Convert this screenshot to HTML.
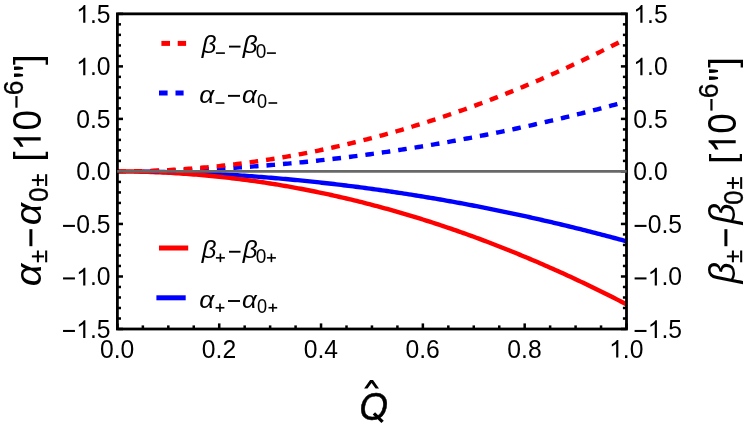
<!DOCTYPE html>
<html><head><meta charset="utf-8"><title>plot</title>
<style>html,body{margin:0;padding:0;background:#fff;}svg{display:block;will-change:transform;}text{font-family:"Liberation Sans",sans-serif;fill:#000;}</style>
</head><body>
<svg width="747" height="429" viewBox="0 0 747 429">
<defs><clipPath id="c"><rect x="117.4" y="13.85" width="509.10" height="315.15"/></clipPath></defs>
<g clip-path="url(#c)" fill="none" stroke-linecap="butt" stroke-linejoin="round">
<path d="M142.86,171.60 L145.27,171.63 L147.69,171.67 L150.11,171.71 L152.53,171.76 L154.95,171.80 L157.36,171.86 L159.78,171.91 L162.20,171.97 L164.62,172.03 L167.04,172.09 L169.46,172.16 L171.87,172.22 L174.29,172.30 L176.71,172.37 L179.13,172.45 L181.55,172.53 L183.96,172.62 L186.38,172.71 L188.80,172.80 L191.22,172.89 L193.64,172.99 L196.06,173.09 L198.47,173.20 L200.89,173.30 L203.31,173.41 L205.73,173.53 L208.15,173.64 L210.57,173.76 L212.98,173.89 L215.40,174.01 L217.82,174.14 L220.24,174.28 L222.66,174.41 L225.07,174.55 L227.49,174.69 L229.91,174.84 L232.33,174.99 L234.75,175.14 L237.17,175.29 L239.58,175.45 L242.00,175.61 L244.42,175.77 L246.84,175.94 L249.26,176.11 L251.68,176.28 L254.09,176.46 L256.51,176.64 L258.93,176.82 L261.35,177.01 L263.77,177.20 L266.18,177.39 L268.60,177.59 L271.02,177.79 L273.44,177.99 L275.86,178.19 L278.28,178.40 L280.69,178.61 L283.11,178.83 L285.53,179.04 L287.95,179.26 L290.37,179.49 L292.78,179.72 L295.20,179.95 L297.62,180.18 L300.04,180.42 L302.46,180.66 L304.88,180.90 L307.29,181.14 L309.71,181.39 L312.13,181.65 L314.55,181.90 L316.97,182.16 L319.39,182.42 L321.80,182.69 L324.22,182.95 L326.64,183.23 L329.06,183.50 L331.48,183.78 L333.89,184.06 L336.31,184.34 L338.73,184.63 L341.15,184.92 L343.57,185.21 L345.99,185.51 L348.40,185.81 L350.82,186.11 L353.24,186.42 L355.66,186.73 L358.08,187.04 L360.50,187.35 L362.91,187.67 L365.33,187.99 L367.75,188.32 L370.17,188.65 L372.59,188.98 L375.00,189.31 L377.42,189.65 L379.84,189.99 L382.26,190.33 L384.68,190.68 L387.10,191.03 L389.51,191.38 L391.93,191.74 L394.35,192.10 L396.77,192.46 L399.19,192.83 L401.61,193.20 L404.02,193.57 L406.44,193.94 L408.86,194.32 L411.28,194.70 L413.70,195.09 L416.11,195.48 L418.53,195.87 L420.95,196.26 L423.37,196.66 L425.79,197.06 L428.21,197.46 L430.62,197.87 L433.04,198.28 L435.46,198.69 L437.88,199.11 L440.30,199.53 L442.71,199.95 L445.13,200.38 L447.55,200.80 L449.97,201.24 L452.39,201.67 L454.81,202.11 L457.22,202.55 L459.64,203.00 L462.06,203.44 L464.48,203.89 L466.90,204.35 L469.32,204.81 L471.73,205.27 L474.15,205.73 L476.57,206.20 L478.99,206.67 L481.41,207.14 L483.82,207.61 L486.24,208.09 L488.66,208.58 L491.08,209.06 L493.50,209.55 L495.92,210.04 L498.33,210.54 L500.75,211.04 L503.17,211.54 L505.59,212.04 L508.01,212.55 L510.43,213.06 L512.84,213.57 L515.26,214.09 L517.68,214.61 L520.10,215.13 L522.52,215.66 L524.93,216.19 L527.35,216.72 L529.77,217.26 L532.19,217.80 L534.61,218.34 L537.03,218.89 L539.44,219.43 L541.86,219.99 L544.28,220.54 L546.70,221.10 L549.12,221.66 L551.54,222.22 L553.95,222.79 L556.37,223.36 L558.79,223.94 L561.21,224.51 L563.63,225.09 L566.04,225.68 L568.46,226.26 L570.88,226.85 L573.30,227.45 L575.72,228.04 L578.14,228.64 L580.55,229.24 L582.97,229.85 L585.39,230.46 L587.81,231.07 L590.23,231.68 L592.64,232.30 L595.06,232.92 L597.48,233.55 L599.90,234.17 L602.32,234.80 L604.74,235.44 L607.15,236.07 L609.57,236.71 L611.99,237.36 L614.41,238.00 L616.83,238.65 L619.25,239.31 L621.66,239.96 L624.08,240.62 L626.50,241.28" stroke="#0000ff" stroke-width="4.4"/>
<path d="M117.40,171.42 L119.95,171.43 L122.49,171.44 L125.04,171.46 L127.58,171.48 L130.13,171.51 L132.67,171.55 L135.22,171.59 L137.76,171.64 L140.31,171.70 L142.86,171.76 L145.40,171.83 L147.95,171.91 L150.49,171.99 L153.04,172.08 L155.58,172.18 L158.13,172.28 L160.67,172.39 L163.22,172.51 L165.76,172.63 L168.31,172.76 L170.86,172.90 L173.40,173.05 L175.95,173.20 L178.49,173.35 L181.04,173.52 L183.58,173.69 L186.13,173.87 L188.67,174.05 L191.22,174.24 L193.76,174.44 L196.31,174.64 L198.86,174.85 L201.40,175.07 L203.95,175.29 L206.49,175.53 L209.04,175.76 L211.58,176.01 L214.13,176.26 L216.67,176.52 L219.22,176.78 L221.77,177.05 L224.31,177.33 L226.86,177.61 L229.40,177.91 L231.95,178.20 L234.49,178.51 L237.04,178.82 L239.58,179.14 L242.13,179.46 L244.68,179.79 L247.22,180.13 L249.77,180.47 L252.31,180.83 L254.86,181.18 L257.40,181.55 L259.95,181.92 L262.49,182.30 L265.04,182.68 L267.58,183.07 L270.13,183.47 L272.68,183.88 L275.22,184.29 L277.77,184.70 L280.31,185.13 L282.86,185.56 L285.40,186.00 L287.95,186.44 L290.49,186.89 L293.04,187.35 L295.59,187.82 L298.13,188.29 L300.68,188.77 L303.22,189.25 L305.77,189.74 L308.31,190.24 L310.86,190.74 L313.40,191.25 L315.95,191.77 L318.49,192.30 L321.04,192.83 L323.59,193.37 L326.13,193.91 L328.68,194.46 L331.22,195.02 L333.77,195.58 L336.31,196.15 L338.86,196.73 L341.40,197.32 L343.95,197.91 L346.50,198.50 L349.04,199.11 L351.59,199.72 L354.13,200.34 L356.68,200.96 L359.22,201.59 L361.77,202.23 L364.31,202.87 L366.86,203.52 L369.40,204.18 L371.95,204.84 L374.50,205.51 L377.04,206.19 L379.59,206.88 L382.13,207.57 L384.68,208.26 L387.22,208.97 L389.77,209.68 L392.31,210.39 L394.86,211.12 L397.41,211.85 L399.95,212.58 L402.50,213.32 L405.04,214.07 L407.59,214.83 L410.13,215.59 L412.68,216.36 L415.22,217.14 L417.77,217.92 L420.31,218.71 L422.86,219.51 L425.41,220.31 L427.95,221.12 L430.50,221.93 L433.04,222.76 L435.59,223.58 L438.13,224.42 L440.68,225.26 L443.22,226.11 L445.77,226.97 L448.32,227.83 L450.86,228.69 L453.41,229.57 L455.95,230.45 L458.50,231.34 L461.04,232.23 L463.59,233.13 L466.13,234.04 L468.68,234.96 L471.22,235.88 L473.77,236.80 L476.32,237.74 L478.86,238.68 L481.41,239.62 L483.95,240.58 L486.50,241.54 L489.04,242.50 L491.59,243.48 L494.13,244.45 L496.68,245.44 L499.23,246.43 L501.77,247.43 L504.32,248.44 L506.86,249.45 L509.41,250.47 L511.95,251.49 L514.50,252.52 L517.04,253.56 L519.59,254.61 L522.13,255.66 L524.68,256.72 L527.23,257.78 L529.77,258.85 L532.32,259.93 L534.86,261.01 L537.41,262.10 L539.95,263.20 L542.50,264.30 L545.04,265.41 L547.59,266.53 L550.13,267.65 L552.68,268.78 L555.23,269.91 L557.77,271.05 L560.32,272.20 L562.86,273.36 L565.41,274.52 L567.95,275.68 L570.50,276.86 L573.04,278.04 L575.59,279.23 L578.14,280.42 L580.68,281.62 L583.23,282.83 L585.77,284.04 L588.32,285.26 L590.86,286.48 L593.41,287.71 L595.95,288.95 L598.50,290.20 L601.04,291.45 L603.59,292.71 L606.14,293.97 L608.68,295.24 L611.23,296.52 L613.77,297.80 L616.32,299.09 L618.86,300.39 L621.41,301.69 L623.95,303.00 L626.50,304.31" stroke="#ff0000" stroke-width="4.4"/>
<path d="M142.86,171.25 L145.27,171.22 L147.69,171.18 L150.11,171.14 L152.53,171.09 L154.95,171.05 L157.36,170.99 L159.78,170.94 L162.20,170.88 L164.62,170.82 L167.04,170.76 L169.46,170.69 L171.87,170.63 L174.29,170.55 L176.71,170.48 L179.13,170.40 L181.55,170.32 L183.96,170.23 L186.38,170.14 L188.80,170.05 L191.22,169.96 L193.64,169.86 L196.06,169.76 L198.47,169.65 L200.89,169.55 L203.31,169.44 L205.73,169.32 L208.15,169.21 L210.57,169.09 L212.98,168.96 L215.40,168.84 L217.82,168.71 L220.24,168.57 L222.66,168.44 L225.07,168.30 L227.49,168.16 L229.91,168.01 L232.33,167.86 L234.75,167.71 L237.17,167.56 L239.58,167.40 L242.00,167.24 L244.42,167.08 L246.84,166.91 L249.26,166.74 L251.68,166.57 L254.09,166.39 L256.51,166.21 L258.93,166.03 L261.35,165.84 L263.77,165.65 L266.18,165.46 L268.60,165.26 L271.02,165.06 L273.44,164.86 L275.86,164.66 L278.28,164.45 L280.69,164.24 L283.11,164.02 L285.53,163.81 L287.95,163.59 L290.37,163.36 L292.78,163.13 L295.20,162.90 L297.62,162.67 L300.04,162.43 L302.46,162.19 L304.88,161.95 L307.29,161.71 L309.71,161.46 L312.13,161.20 L314.55,160.95 L316.97,160.69 L319.39,160.43 L321.80,160.16 L324.22,159.90 L326.64,159.62 L329.06,159.35 L331.48,159.07 L333.89,158.79 L336.31,158.51 L338.73,158.22 L341.15,157.93 L343.57,157.64 L345.99,157.34 L348.40,157.04 L350.82,156.74 L353.24,156.43 L355.66,156.12 L358.08,155.81 L360.50,155.50 L362.91,155.18 L365.33,154.86 L367.75,154.53 L370.17,154.20 L372.59,153.87 L375.00,153.54 L377.42,153.20 L379.84,152.86 L382.26,152.52 L384.68,152.17 L387.10,151.82 L389.51,151.47 L391.93,151.11 L394.35,150.75 L396.77,150.39 L399.19,150.02 L401.61,149.65 L404.02,149.28 L406.44,148.91 L408.86,148.53 L411.28,148.15 L413.70,147.76 L416.11,147.37 L418.53,146.98 L420.95,146.59 L423.37,146.19 L425.79,145.79 L428.21,145.39 L430.62,144.98 L433.04,144.57 L435.46,144.16 L437.88,143.74 L440.30,143.32 L442.71,142.90 L445.13,142.47 L447.55,142.05 L449.97,141.61 L452.39,141.18 L454.81,140.74 L457.22,140.30 L459.64,139.85 L462.06,139.41 L464.48,138.96 L466.90,138.50 L469.32,138.04 L471.73,137.58 L474.15,137.12 L476.57,136.65 L478.99,136.18 L481.41,135.71 L483.82,135.24 L486.24,134.76 L488.66,134.27 L491.08,133.79 L493.50,133.30 L495.92,132.81 L498.33,132.31 L500.75,131.81 L503.17,131.31 L505.59,130.81 L508.01,130.30 L510.43,129.79 L512.84,129.28 L515.26,128.76 L517.68,128.24 L520.10,127.72 L522.52,127.19 L524.93,126.66 L527.35,126.13 L529.77,125.59 L532.19,125.05 L534.61,124.51 L537.03,123.96 L539.44,123.42 L541.86,122.86 L544.28,122.31 L546.70,121.75 L549.12,121.19 L551.54,120.63 L553.95,120.06 L556.37,119.49 L558.79,118.91 L561.21,118.34 L563.63,117.76 L566.04,117.17 L568.46,116.59 L570.88,116.00 L573.30,115.40 L575.72,114.81 L578.14,114.21 L580.55,113.61 L582.97,113.00 L585.39,112.39 L587.81,111.78 L590.23,111.17 L592.64,110.55 L595.06,109.93 L597.48,109.30 L599.90,108.68 L602.32,108.05 L604.74,107.41 L607.15,106.78 L609.57,106.14 L611.99,105.49 L614.41,104.85 L616.83,104.20 L619.25,103.54 L621.66,102.89 L624.08,102.23 L626.50,101.57" stroke="#0000ff" stroke-width="4.4" stroke-dasharray="8.6,7.98" stroke-dashoffset="8.88"/>
<path d="M117.40,171.42 L119.95,171.42 L122.49,171.41 L125.04,171.39 L127.58,171.37 L130.13,171.34 L132.67,171.30 L135.22,171.26 L137.76,171.21 L140.31,171.15 L142.86,171.09 L145.40,171.02 L147.95,170.94 L150.49,170.86 L153.04,170.77 L155.58,170.67 L158.13,170.57 L160.67,170.46 L163.22,170.34 L165.76,170.22 L168.31,170.09 L170.86,169.95 L173.40,169.80 L175.95,169.65 L178.49,169.50 L181.04,169.33 L183.58,169.16 L186.13,168.98 L188.67,168.80 L191.22,168.61 L193.76,168.41 L196.31,168.21 L198.86,168.00 L201.40,167.78 L203.95,167.56 L206.49,167.32 L209.04,167.09 L211.58,166.84 L214.13,166.59 L216.67,166.33 L219.22,166.07 L221.77,165.80 L224.31,165.52 L226.86,165.24 L229.40,164.94 L231.95,164.65 L234.49,164.34 L237.04,164.03 L239.58,163.71 L242.13,163.39 L244.68,163.06 L247.22,162.72 L249.77,162.38 L252.31,162.02 L254.86,161.67 L257.40,161.30 L259.95,160.93 L262.49,160.55 L265.04,160.17 L267.58,159.78 L270.13,159.38 L272.68,158.97 L275.22,158.56 L277.77,158.15 L280.31,157.72 L282.86,157.29 L285.40,156.85 L287.95,156.41 L290.49,155.96 L293.04,155.50 L295.59,155.03 L298.13,154.56 L300.68,154.08 L303.22,153.60 L305.77,153.11 L308.31,152.61 L310.86,152.11 L313.40,151.60 L315.95,151.08 L318.49,150.55 L321.04,150.02 L323.59,149.48 L326.13,148.94 L328.68,148.39 L331.22,147.83 L333.77,147.27 L336.31,146.70 L338.86,146.12 L341.40,145.53 L343.95,144.94 L346.50,144.35 L349.04,143.74 L351.59,143.13 L354.13,142.51 L356.68,141.89 L359.22,141.26 L361.77,140.62 L364.31,139.98 L366.86,139.33 L369.40,138.67 L371.95,138.01 L374.50,137.34 L377.04,136.66 L379.59,135.97 L382.13,135.28 L384.68,134.59 L387.22,133.88 L389.77,133.17 L392.31,132.46 L394.86,131.73 L397.41,131.00 L399.95,130.27 L402.50,129.53 L405.04,128.78 L407.59,128.02 L410.13,127.26 L412.68,126.49 L415.22,125.71 L417.77,124.93 L420.31,124.14 L422.86,123.34 L425.41,122.54 L427.95,121.73 L430.50,120.92 L433.04,120.09 L435.59,119.27 L438.13,118.43 L440.68,117.59 L443.22,116.74 L445.77,115.88 L448.32,115.02 L450.86,114.16 L453.41,113.28 L455.95,112.40 L458.50,111.51 L461.04,110.62 L463.59,109.72 L466.13,108.81 L468.68,107.89 L471.22,106.97 L473.77,106.05 L476.32,105.11 L478.86,104.17 L481.41,103.23 L483.95,102.27 L486.50,101.31 L489.04,100.35 L491.59,99.37 L494.13,98.40 L496.68,97.41 L499.23,96.42 L501.77,95.42 L504.32,94.41 L506.86,93.40 L509.41,92.38 L511.95,91.36 L514.50,90.33 L517.04,89.29 L519.59,88.24 L522.13,87.19 L524.68,86.13 L527.23,85.07 L529.77,84.00 L532.32,82.92 L534.86,81.84 L537.41,80.75 L539.95,79.65 L542.50,78.55 L545.04,77.44 L547.59,76.32 L550.13,75.20 L552.68,74.07 L555.23,72.94 L557.77,71.80 L560.32,70.65 L562.86,69.49 L565.41,68.33 L567.95,67.17 L570.50,65.99 L573.04,64.81 L575.59,63.62 L578.14,62.43 L580.68,61.23 L583.23,60.02 L585.77,58.81 L588.32,57.59 L590.86,56.37 L593.41,55.14 L595.95,53.90 L598.50,52.65 L601.04,51.40 L603.59,50.14 L606.14,48.88 L608.68,47.61 L611.23,46.33 L613.77,45.05 L616.32,43.76 L618.86,42.46 L621.41,41.16 L623.95,39.85 L626.50,38.54" stroke="#ff0000" stroke-width="4.4" stroke-dasharray="8.6,7.98" stroke-dashoffset="0"/>
</g>
<rect x="117.4" y="13.85" width="509.10" height="315.15" fill="none" stroke="#000" stroke-width="2.8"/>
<g stroke="#000" stroke-width="2.52">
<line x1="117.4" y1="329.00" x2="123.0" y2="329.00"/>
<line x1="626.5" y1="329.00" x2="620.9" y2="329.00"/>
<line x1="117.4" y1="318.50" x2="121.0" y2="318.50"/>
<line x1="626.5" y1="318.50" x2="622.9" y2="318.50"/>
<line x1="117.4" y1="307.99" x2="121.0" y2="307.99"/>
<line x1="626.5" y1="307.99" x2="622.9" y2="307.99"/>
<line x1="117.4" y1="297.49" x2="121.0" y2="297.49"/>
<line x1="626.5" y1="297.49" x2="622.9" y2="297.49"/>
<line x1="117.4" y1="286.98" x2="121.0" y2="286.98"/>
<line x1="626.5" y1="286.98" x2="622.9" y2="286.98"/>
<line x1="117.4" y1="276.48" x2="123.0" y2="276.48"/>
<line x1="626.5" y1="276.48" x2="620.9" y2="276.48"/>
<line x1="117.4" y1="265.97" x2="121.0" y2="265.97"/>
<line x1="626.5" y1="265.97" x2="622.9" y2="265.97"/>
<line x1="117.4" y1="255.46" x2="121.0" y2="255.46"/>
<line x1="626.5" y1="255.46" x2="622.9" y2="255.46"/>
<line x1="117.4" y1="244.96" x2="121.0" y2="244.96"/>
<line x1="626.5" y1="244.96" x2="622.9" y2="244.96"/>
<line x1="117.4" y1="234.45" x2="121.0" y2="234.45"/>
<line x1="626.5" y1="234.45" x2="622.9" y2="234.45"/>
<line x1="117.4" y1="223.95" x2="123.0" y2="223.95"/>
<line x1="626.5" y1="223.95" x2="620.9" y2="223.95"/>
<line x1="117.4" y1="213.44" x2="121.0" y2="213.44"/>
<line x1="626.5" y1="213.44" x2="622.9" y2="213.44"/>
<line x1="117.4" y1="202.94" x2="121.0" y2="202.94"/>
<line x1="626.5" y1="202.94" x2="622.9" y2="202.94"/>
<line x1="117.4" y1="192.44" x2="121.0" y2="192.44"/>
<line x1="626.5" y1="192.44" x2="622.9" y2="192.44"/>
<line x1="117.4" y1="181.93" x2="121.0" y2="181.93"/>
<line x1="626.5" y1="181.93" x2="622.9" y2="181.93"/>
<line x1="117.4" y1="171.42" x2="123.0" y2="171.42"/>
<line x1="626.5" y1="171.42" x2="620.9" y2="171.42"/>
<line x1="117.4" y1="160.92" x2="121.0" y2="160.92"/>
<line x1="626.5" y1="160.92" x2="622.9" y2="160.92"/>
<line x1="117.4" y1="150.41" x2="121.0" y2="150.41"/>
<line x1="626.5" y1="150.41" x2="622.9" y2="150.41"/>
<line x1="117.4" y1="139.91" x2="121.0" y2="139.91"/>
<line x1="626.5" y1="139.91" x2="622.9" y2="139.91"/>
<line x1="117.4" y1="129.41" x2="121.0" y2="129.41"/>
<line x1="626.5" y1="129.41" x2="622.9" y2="129.41"/>
<line x1="117.4" y1="118.90" x2="123.0" y2="118.90"/>
<line x1="626.5" y1="118.90" x2="620.9" y2="118.90"/>
<line x1="117.4" y1="108.39" x2="121.0" y2="108.39"/>
<line x1="626.5" y1="108.39" x2="622.9" y2="108.39"/>
<line x1="117.4" y1="97.89" x2="121.0" y2="97.89"/>
<line x1="626.5" y1="97.89" x2="622.9" y2="97.89"/>
<line x1="117.4" y1="87.38" x2="121.0" y2="87.38"/>
<line x1="626.5" y1="87.38" x2="622.9" y2="87.38"/>
<line x1="117.4" y1="76.88" x2="121.0" y2="76.88"/>
<line x1="626.5" y1="76.88" x2="622.9" y2="76.88"/>
<line x1="117.4" y1="66.38" x2="123.0" y2="66.38"/>
<line x1="626.5" y1="66.38" x2="620.9" y2="66.38"/>
<line x1="117.4" y1="55.87" x2="121.0" y2="55.87"/>
<line x1="626.5" y1="55.87" x2="622.9" y2="55.87"/>
<line x1="117.4" y1="45.37" x2="121.0" y2="45.37"/>
<line x1="626.5" y1="45.37" x2="622.9" y2="45.37"/>
<line x1="117.4" y1="34.86" x2="121.0" y2="34.86"/>
<line x1="626.5" y1="34.86" x2="622.9" y2="34.86"/>
<line x1="117.4" y1="24.36" x2="121.0" y2="24.36"/>
<line x1="626.5" y1="24.36" x2="622.9" y2="24.36"/>
<line x1="117.4" y1="13.85" x2="123.0" y2="13.85"/>
<line x1="626.5" y1="13.85" x2="620.9" y2="13.85"/>
<line x1="117.40" y1="329.0" x2="117.40" y2="323.4"/>
<line x1="142.86" y1="329.0" x2="142.86" y2="325.4"/>
<line x1="168.31" y1="329.0" x2="168.31" y2="325.4"/>
<line x1="193.76" y1="329.0" x2="193.76" y2="325.4"/>
<line x1="219.22" y1="329.0" x2="219.22" y2="323.4"/>
<line x1="244.68" y1="329.0" x2="244.68" y2="325.4"/>
<line x1="270.13" y1="329.0" x2="270.13" y2="325.4"/>
<line x1="295.59" y1="329.0" x2="295.59" y2="325.4"/>
<line x1="321.04" y1="329.0" x2="321.04" y2="323.4"/>
<line x1="346.50" y1="329.0" x2="346.50" y2="325.4"/>
<line x1="371.95" y1="329.0" x2="371.95" y2="325.4"/>
<line x1="397.41" y1="329.0" x2="397.41" y2="325.4"/>
<line x1="422.86" y1="329.0" x2="422.86" y2="323.4"/>
<line x1="448.32" y1="329.0" x2="448.32" y2="325.4"/>
<line x1="473.77" y1="329.0" x2="473.77" y2="325.4"/>
<line x1="499.23" y1="329.0" x2="499.23" y2="325.4"/>
<line x1="524.68" y1="329.0" x2="524.68" y2="323.4"/>
<line x1="550.13" y1="329.0" x2="550.13" y2="325.4"/>
<line x1="575.59" y1="329.0" x2="575.59" y2="325.4"/>
<line x1="601.04" y1="329.0" x2="601.04" y2="325.4"/>
<line x1="626.50" y1="329.0" x2="626.50" y2="323.4"/>
</g>
<line x1="117.2" y1="171.42" x2="626.7" y2="171.42" stroke="#686868" stroke-width="2.8"/>
<rect x="63.04" y="329.93" width="11.90" height="2.05" fill="#000"/>
<path transform="translate(76.16,337.95) scale(0.01206,-0.01206)" d="M763,0 H583 V1147 Q518,1085 412.5,1023 T223,930 V1104 Q373,1174.5 485.5,1275 T644,1466 H763 Z" fill="#000"/>
<text transform="translate(89.90,337.95) scale(1,1.0450)" font-size="24.70" text-anchor="start">.5</text>
<rect x="634.60" y="329.93" width="11.90" height="2.05" fill="#000"/>
<path transform="translate(647.72,337.95) scale(0.01206,-0.01206)" d="M763,0 H583 V1147 Q518,1085 412.5,1023 T223,930 V1104 Q373,1174.5 485.5,1275 T644,1466 H763 Z" fill="#000"/>
<text transform="translate(661.46,337.95) scale(1,1.0450)" font-size="24.70" text-anchor="start">.5</text>
<rect x="63.04" y="277.40" width="11.90" height="2.05" fill="#000"/>
<path transform="translate(76.16,285.43) scale(0.01206,-0.01206)" d="M763,0 H583 V1147 Q518,1085 412.5,1023 T223,930 V1104 Q373,1174.5 485.5,1275 T644,1466 H763 Z" fill="#000"/>
<text transform="translate(89.90,285.43) scale(1,1.0450)" font-size="24.70" text-anchor="start">.0</text>
<rect x="634.60" y="277.40" width="11.90" height="2.05" fill="#000"/>
<path transform="translate(647.72,285.43) scale(0.01206,-0.01206)" d="M763,0 H583 V1147 Q518,1085 412.5,1023 T223,930 V1104 Q373,1174.5 485.5,1275 T644,1466 H763 Z" fill="#000"/>
<text transform="translate(661.46,285.43) scale(1,1.0450)" font-size="24.70" text-anchor="start">.0</text>
<rect x="63.04" y="224.87" width="11.90" height="2.05" fill="#000"/>
<text transform="translate(76.16,232.90) scale(1,1.0450)" font-size="24.70" text-anchor="start">0.5</text>
<rect x="634.60" y="224.87" width="11.90" height="2.05" fill="#000"/>
<text transform="translate(647.72,232.90) scale(1,1.0450)" font-size="24.70" text-anchor="start">0.5</text>
<text transform="translate(76.16,180.37) scale(1,1.0450)" font-size="24.70" text-anchor="start">0.0</text>
<text transform="translate(633.30,180.37) scale(1,1.0450)" font-size="24.70" text-anchor="start">0.0</text>
<text transform="translate(76.16,127.85) scale(1,1.0450)" font-size="24.70" text-anchor="start">0.5</text>
<text transform="translate(633.30,127.85) scale(1,1.0450)" font-size="24.70" text-anchor="start">0.5</text>
<path transform="translate(76.16,75.33) scale(0.01206,-0.01206)" d="M763,0 H583 V1147 Q518,1085 412.5,1023 T223,930 V1104 Q373,1174.5 485.5,1275 T644,1466 H763 Z" fill="#000"/>
<text transform="translate(89.90,75.33) scale(1,1.0450)" font-size="24.70" text-anchor="start">.0</text>
<path transform="translate(633.30,75.33) scale(0.01206,-0.01206)" d="M763,0 H583 V1147 Q518,1085 412.5,1023 T223,930 V1104 Q373,1174.5 485.5,1275 T644,1466 H763 Z" fill="#000"/>
<text transform="translate(647.04,75.33) scale(1,1.0450)" font-size="24.70" text-anchor="start">.0</text>
<path transform="translate(76.16,22.80) scale(0.01206,-0.01206)" d="M763,0 H583 V1147 Q518,1085 412.5,1023 T223,930 V1104 Q373,1174.5 485.5,1275 T644,1466 H763 Z" fill="#000"/>
<text transform="translate(89.90,22.80) scale(1,1.0450)" font-size="24.70" text-anchor="start">.5</text>
<path transform="translate(633.30,22.80) scale(0.01206,-0.01206)" d="M763,0 H583 V1147 Q518,1085 412.5,1023 T223,930 V1104 Q373,1174.5 485.5,1275 T644,1466 H763 Z" fill="#000"/>
<text transform="translate(647.04,22.80) scale(1,1.0450)" font-size="24.70" text-anchor="start">.5</text>
<text transform="translate(100.03,357.60) scale(1,1.0450)" font-size="24.70" text-anchor="start">0.0</text>
<text transform="translate(201.85,357.60) scale(1,1.0450)" font-size="24.70" text-anchor="start">0.2</text>
<text transform="translate(303.67,357.60) scale(1,1.0450)" font-size="24.70" text-anchor="start">0.4</text>
<text transform="translate(405.49,357.60) scale(1,1.0450)" font-size="24.70" text-anchor="start">0.6</text>
<text transform="translate(507.31,357.60) scale(1,1.0450)" font-size="24.70" text-anchor="start">0.8</text>
<path transform="translate(609.13,357.60) scale(0.01206,-0.01206)" d="M763,0 H583 V1147 Q518,1085 412.5,1023 T223,930 V1104 Q373,1174.5 485.5,1275 T644,1466 H763 Z" fill="#000"/>
<text transform="translate(622.87,357.60) scale(1,1.0450)" font-size="24.70" text-anchor="start">.0</text>
<text transform="translate(201.83,52.66) scale(1,0.9527)" font-size="25.73" text-anchor="start" font-style="italic">β</text>
<text transform="translate(242.74,52.66) scale(1,0.9399)" font-size="26.08" text-anchor="start" font-style="italic">β</text>
<rect x="229.00" y="45.65" width="11.50" height="1.90" fill="#000"/>
<text transform="translate(255.86,57.71) scale(1,1.0313)" font-size="19.04" text-anchor="start">0</text>
<rect x="215.90" y="52.30" width="9.00" height="1.60" fill="#000"/>
<rect x="266.90" y="52.30" width="9.00" height="1.60" fill="#000"/>
<text transform="translate(199.30,103.15) scale(1,0.9380)" font-size="26.27" text-anchor="start" font-style="italic">α</text>
<text transform="translate(242.01,103.15) scale(1,0.9509)" font-size="25.91" text-anchor="start" font-style="italic">α</text>
<rect x="228.00" y="94.90" width="12.00" height="1.90" fill="#000"/>
<text transform="translate(256.89,108.21) scale(1,1.0865)" font-size="18.20" text-anchor="start">0</text>
<rect x="215.60" y="102.20" width="8.80" height="1.60" fill="#000"/>
<rect x="268.50" y="102.20" width="8.70" height="1.60" fill="#000"/>
<text transform="translate(201.83,257.81) scale(1,0.9527)" font-size="25.73" text-anchor="start" font-style="italic">β</text>
<text transform="translate(242.74,257.81) scale(1,0.9399)" font-size="26.08" text-anchor="start" font-style="italic">β</text>
<rect x="229.00" y="250.80" width="11.50" height="1.90" fill="#000"/>
<text transform="translate(255.86,262.86) scale(1,1.0313)" font-size="19.04" text-anchor="start">0</text>
<rect x="215.90" y="257.05" width="9.00" height="1.60" fill="#000"/>
<rect x="219.60" y="253.55" width="1.60" height="8.60" fill="#000"/>
<rect x="266.90" y="257.05" width="9.00" height="1.60" fill="#000"/>
<rect x="270.60" y="253.55" width="1.60" height="8.60" fill="#000"/>
<text transform="translate(199.30,308.30) scale(1,0.9380)" font-size="26.27" text-anchor="start" font-style="italic">α</text>
<text transform="translate(242.01,308.30) scale(1,0.9509)" font-size="25.91" text-anchor="start" font-style="italic">α</text>
<rect x="228.00" y="300.05" width="12.00" height="1.90" fill="#000"/>
<text transform="translate(256.89,313.36) scale(1,1.0865)" font-size="18.20" text-anchor="start">0</text>
<rect x="215.60" y="306.95" width="8.80" height="1.60" fill="#000"/>
<rect x="219.20" y="303.55" width="1.60" height="8.40" fill="#000"/>
<rect x="268.50" y="306.95" width="8.70" height="1.60" fill="#000"/>
<rect x="272.05" y="303.60" width="1.60" height="8.30" fill="#000"/>
<rect x="161.40" y="40.90" width="8.60" height="5.00" fill="#ff0000"/>
<rect x="177.70" y="40.90" width="8.40" height="5.00" fill="#ff0000"/>
<rect x="159.00" y="90.50" width="8.60" height="5.00" fill="#0000ff"/>
<rect x="175.50" y="90.50" width="8.10" height="5.00" fill="#0000ff"/>
<rect x="159.00" y="245.50" width="29.20" height="5.00" fill="#ff0000"/>
<rect x="156.40" y="295.30" width="29.30" height="5.00" fill="#0000ff"/>
<text transform="translate(40.81,286.35) rotate(-90) scale(1,0.9545)" font-size="39.58" text-anchor="start" font-style="italic">α</text>
<text transform="translate(40.81,225.13) rotate(-90) scale(1,0.9699)" font-size="38.96" text-anchor="start" font-style="italic">α</text>
<rect x="31.90" y="255.37" width="12.10" height="2.05" fill="#000"/>
<rect x="36.88" y="250.50" width="2.05" height="11.80" fill="#000"/>
<rect x="45.15" y="250.50" width="2.05" height="11.80" fill="#000"/>
<rect x="29.40" y="229.20" width="3.00" height="17.00" fill="#000"/>
<text transform="translate(47.53,201.80) rotate(-90) scale(1,1.0792)" font-size="25.52" text-anchor="start" stroke="#000" stroke-width="0.3">0</text>
<rect x="31.90" y="179.07" width="12.10" height="2.05" fill="#000"/>
<rect x="36.88" y="174.20" width="2.05" height="11.80" fill="#000"/>
<rect x="45.15" y="174.20" width="2.05" height="11.80" fill="#000"/>
<text transform="translate(39.65,161.48) rotate(-90) scale(1,1.0112)" font-size="36.23" text-anchor="start">[</text>
<path transform="translate(40.70,150.58) rotate(-90) scale(0.01741,-0.01849)" d="M763,0 H583 V1147 Q518,1085 412.5,1023 T223,930 V1104 Q373,1174.5 485.5,1275 T644,1466 H763 Z" fill="#000"/>
<text transform="translate(40.56,130.44) rotate(-90) scale(1,1.0787)" font-size="36.92" text-anchor="start">0</text>
<rect x="15.35" y="96.10" width="2.20" height="11.60" fill="#000"/>
<text transform="translate(22.94,95.34) rotate(-90) scale(1,1.0257)" font-size="26.44" text-anchor="start" stroke="#000" stroke-width="0.3">6</text>
<path d="M14.00,66.70 Q14.00,66.40 14.40,66.40 L19.00,66.55 L22.90,67.20 Q23.40,68.20 22.90,69.20 L19.00,69.85 L14.40,70.00 Q14.00,70.00 14.00,69.70 Z" fill="#000"/>
<path d="M14.00,73.70 Q14.00,73.40 14.40,73.40 L19.00,73.55 L22.90,74.20 Q23.40,75.20 22.90,76.20 L19.00,76.85 L14.40,77.00 Q14.00,77.00 14.00,76.70 Z" fill="#000"/>
<text transform="translate(39.63,64.95) rotate(-90) scale(1,0.9353)" font-size="39.00" text-anchor="start">]</text>
<text transform="translate(735.33,283.19) rotate(-90) scale(1,1.0089)" font-size="37.11" text-anchor="start" font-style="italic">β</text>
<text transform="translate(735.33,224.19) rotate(-90) scale(1,1.0089)" font-size="37.11" text-anchor="start" font-style="italic">β</text>
<rect x="726.90" y="255.37" width="12.10" height="2.05" fill="#000"/>
<rect x="731.88" y="250.50" width="2.05" height="11.80" fill="#000"/>
<rect x="740.15" y="250.50" width="2.05" height="11.80" fill="#000"/>
<rect x="724.40" y="229.20" width="3.00" height="17.00" fill="#000"/>
<text transform="translate(742.53,204.70) rotate(-90) scale(1,1.0792)" font-size="25.52" text-anchor="start" stroke="#000" stroke-width="0.3">0</text>
<rect x="726.90" y="181.97" width="12.10" height="2.05" fill="#000"/>
<rect x="731.88" y="177.10" width="2.05" height="11.80" fill="#000"/>
<rect x="740.15" y="177.10" width="2.05" height="11.80" fill="#000"/>
<text transform="translate(734.80,163.78) rotate(-90) scale(1,0.9905)" font-size="36.23" text-anchor="start">[</text>
<path transform="translate(735.70,153.48) rotate(-90) scale(0.01741,-0.01849)" d="M763,0 H583 V1147 Q518,1085 412.5,1023 T223,930 V1104 Q373,1174.5 485.5,1275 T644,1466 H763 Z" fill="#000"/>
<text transform="translate(736.16,133.64) rotate(-90) scale(1,1.0787)" font-size="36.92" text-anchor="start">0</text>
<rect x="710.35" y="99.00" width="2.20" height="11.60" fill="#000"/>
<text transform="translate(717.94,98.24) rotate(-90) scale(1,1.0257)" font-size="26.44" text-anchor="start" stroke="#000" stroke-width="0.3">6</text>
<path d="M709.00,69.60 Q709.00,69.30 709.40,69.30 L714.00,69.45 L717.90,70.10 Q718.40,71.10 717.90,72.10 L714.00,72.75 L709.40,72.90 Q709.00,72.90 709.00,72.60 Z" fill="#000"/>
<path d="M709.00,76.60 Q709.00,76.30 709.40,76.30 L714.00,76.45 L717.90,77.10 Q718.40,78.10 717.90,79.10 L714.00,79.75 L709.40,79.90 Q709.00,79.90 709.00,79.60 Z" fill="#000"/>
<text transform="translate(734.63,67.85) rotate(-90) scale(1,0.9353)" font-size="39.00" text-anchor="start">]</text>
<text transform="translate(359.31,419.63) scale(1,1.0365)" font-size="36.79" text-anchor="start" font-style="italic" stroke="#000" stroke-width="0.5">O</text>
<line x1="373.9" y1="413.3" x2="382.6" y2="421.9" stroke="#000" stroke-width="3.3"/>
<path d="M364.1,388.5 L370.1,380.1 L373.0,380.1 L379.0,388.5 L375.6,388.5 L371.55,382.9 L367.5,388.5 Z" fill="#000"/>
</svg></body></html>
